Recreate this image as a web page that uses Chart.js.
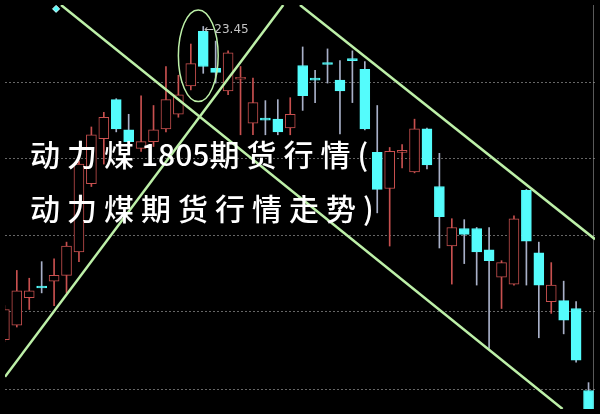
<!DOCTYPE html>
<html><head><meta charset="utf-8">
<script src="https://cdn.jsdelivr.net/npm/chart.js@4.4.0/dist/chart.umd.min.js"></script>
<style>
html,body{margin:0;padding:0;background:#000;width:600px;height:414px;overflow:hidden}
#wrap{position:relative;width:600px;height:414px}
canvas{display:block}
.title{position:absolute;left:30px;color:#fff;font-family:"Noto Sans CJK SC";font-size:30px;line-height:30px;white-space:nowrap;letter-spacing:7px;font-weight:500}
.num{letter-spacing:0}
</style></head><body>
<div id="wrap"><canvas id="c" width="600" height="414"></canvas>
<div class="title" style="top:138px">动力煤<span class="num">1805</span>期货行情(</div>
<div class="title" style="top:192px">动力煤期货行情走势)</div>
</div>
<script>
// candle index (trading day)
const days = [0,1,2,3,4,5,6,7,8,9,10,11,12,13,14,15,16,17,18,19,20,21,22,23,24,25,26,27,28,29,30,31,32,33,34,35,36,37,38,39,40,41,42,43,44,45,46,47];
const opens  = [20.24,20.39,20.67,20.79,20.84,20.90,21.14,21.84,22.30,22.70,22.39,22.20,22.27,22.40,22.55,22.84,23.40,23.02,22.79,22.91,22.46,22.51,22.50,22.41,23.05,22.92,23.08,22.90,23.12,23.01,22.16,21.79,22.16,21.96,22.40,21.81,21.20,21.38,21.38,21.16,20.88,20.81,21.77,21.13,20.63,20.64,20.56,19.72];
const highs  = [20.59,20.95,20.87,21.04,21.07,21.24,22.07,22.42,22.57,22.71,22.55,22.74,22.64,23.04,22.95,23.27,23.45,23.30,23.20,23.04,22.92,22.69,22.70,22.72,23.24,23.00,23.22,23.10,23.20,23.09,22.64,22.21,22.24,22.50,22.41,22.15,21.48,21.47,21.39,21.39,21.05,21.51,21.78,21.24,21.03,20.84,20.63,19.80];
const lows   = [20.22,20.37,20.55,20.72,20.59,20.72,21.04,21.81,22.04,22.37,22.25,22.17,22.22,22.37,22.52,22.80,22.97,22.87,22.75,22.34,22.34,22.34,22.34,22.34,22.59,22.67,22.87,22.35,22.67,22.39,21.54,21.20,22.00,21.95,21.99,21.18,20.81,21.02,20.80,20.15,20.56,20.80,20.80,20.26,20.51,20.30,20.01,19.40];
const closes = [20.55,20.74,20.74,20.77,20.90,21.20,22.04,22.34,22.52,22.40,22.27,22.27,22.39,22.70,22.75,23.07,23.04,22.98,23.18,22.93,22.67,22.49,22.37,22.55,22.74,22.90,23.06,22.79,23.10,22.40,21.78,22.17,22.18,22.40,22.03,21.50,21.39,21.32,21.14,21.05,21.03,21.48,21.25,20.80,20.80,20.44,20.03,19.45];
const gridLevels = [22.88, 22.10, 21.31, 20.53, 19.74];
const trendA = [{x:4.56,y:23.67},{x:44.91,y:19.53}];
const trendB = [{x:0.05,y:19.86},{x:22.44,y:23.67}];
const trendC = [{x:23.78,y:23.67},{x:47.52,y:21.27}];
const markPoint = [{x:4.16,y:23.63}];
const ellipseCenter = {x:15.6, y:23.15};
const ellipseRadius = {x:1.6, y:0.47};
const highLabelIndex = 16;

const RED = '#c8504f', CYAN = '#54fcfc', CYAN_WICK = '#a8b0c8', GREEN = '#bdf0a8';
const isUp = days.map((d,i)=>closes[i] > opens[i]);

const overlay = {
  id:'overlay',
  beforeDatasetsDraw(chart){
    const {ctx, chartArea:a, scales:{x,y}} = chart;
    ctx.save();
    ctx.strokeStyle = 'rgba(120,120,120,0.85)';
    ctx.lineWidth = 1;
    ctx.setLineDash([2,2]);
    gridLevels.forEach(v=>{
      const py = Math.round(y.getPixelForValue(v))+0.5;
      ctx.beginPath(); ctx.moveTo(a.left,py); ctx.lineTo(a.right,py); ctx.stroke();
    });
    ctx.setLineDash([]);
    ctx.strokeStyle = 'rgba(150,150,150,0.6)';
    ctx.beginPath(); ctx.moveTo(a.right-1.5,a.top); ctx.lineTo(a.right-1.5,a.bottom); ctx.stroke();
    ctx.restore();
  },
  afterDatasetsDraw(chart){
    const {ctx, scales:{x,y}} = chart;
    ctx.save();
    const cx = x.getPixelForValue(ellipseCenter.x), cy = y.getPixelForValue(ellipseCenter.y);
    const rx = Math.abs(x.getPixelForValue(ellipseCenter.x+ellipseRadius.x)-cx);
    const ry = Math.abs(y.getPixelForValue(ellipseCenter.y+ellipseRadius.y)-cy);
    ctx.strokeStyle = GREEN; ctx.lineWidth = 1.5;
    ctx.beginPath(); ctx.ellipse(cx,cy,rx,ry,0,0,Math.PI*2); ctx.stroke();
    const lx = x.getPixelForValue(days[highLabelIndex]) + 1;
    const ly = y.getPixelForValue(highs[highLabelIndex]) + 3;
    ctx.fillStyle = '#c4c4c4';
    ctx.font = '12px "DejaVu Sans"';
    ctx.textBaseline = 'middle';
    ctx.fillText('←' + highs[highLabelIndex].toFixed(2), lx, ly);
    ctx.restore();
  }
};

new Chart(document.getElementById('c'), {
  type:'bar',
  data:{
    datasets:[
      {type:'line', data:trendA, borderColor:GREEN, borderWidth:2.5, pointRadius:0, order:1},
      {type:'line', data:trendB, borderColor:GREEN, borderWidth:2.5, pointRadius:0, order:1},
      {type:'line', data:trendC, borderColor:GREEN, borderWidth:2.5, pointRadius:0, order:1},
      {type:'line', data:markPoint, showLine:false, pointStyle:'rectRot', pointRadius:3.5, backgroundColor:CYAN, borderColor:'#e0ffff', borderWidth:1, order:1},
      {label:'body', data:days.map((d,i)=>({x:d, y:[opens[i], closes[i]]})), barThickness:10, grouped:false,
        backgroundColor:isUp.map(u=>u?'#000':CYAN), borderColor:isUp.map(u=>u?RED:CYAN), borderWidth:1, borderSkipped:false, order:2},
      {label:'wick', data:days.map((d,i)=>({x:d, y:[lows[i], highs[i]]})), barThickness:1, grouped:false,
        backgroundColor:isUp.map(u=>u?RED:CYAN_WICK), borderWidth:0, order:3}
    ]
  },
  options:{
    responsive:false, animation:false, devicePixelRatio:1,
    layout:{padding:0},
    plugins:{legend:{display:false}, tooltip:{enabled:false}},
    scales:{
      x:{type:'linear', min:0.05, max:47.52, offset:false, display:false},
      y:{type:'linear', min:19.53, max:23.67, display:false}
    }
  },
  plugins:[overlay]
});
</script>
</body></html>
